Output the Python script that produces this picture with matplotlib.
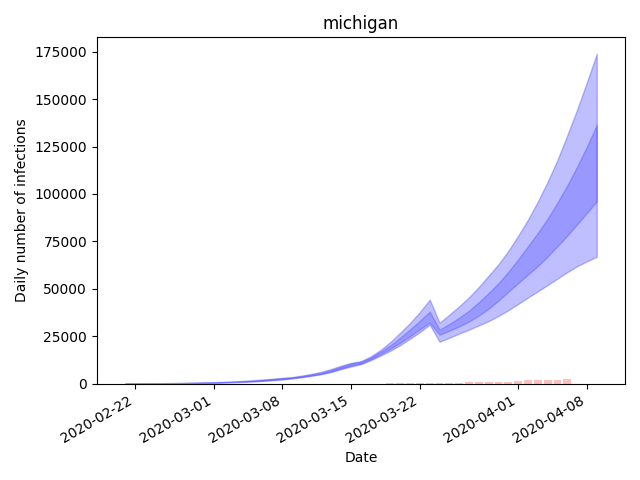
import numpy as np
import pandas as pd
import matplotlib
matplotlib.use('agg')
import matplotlib.pyplot as plt
import matplotlib.dates as mdates

dates = pd.date_range('2020-02-21', '2020-04-09')

# 49 daily values (feb 21 - apr 9)
outer_low = [50, 70, 90, 120, 150, 190, 240, 300, 380, 480, 600, 750, 930, 1150, 1450, 1800, 2200,
             2800, 3400, 4150, 5000, 6200, 7700, 9100, 10300, 12400, 14800, 17400, 20300, 23700, 27200, 31100,
             22100, 24200, 26400, 28500, 30700, 33000, 35700, 38700, 42000, 45400, 48700, 52000, 55400, 58800, 61900, 64500, 66900]
outer_up = [90, 120, 160, 210, 270, 340, 420, 520, 650, 800, 980, 1200, 1470, 1800, 2200, 2650, 3100,
            3500, 4300, 5200, 6300, 7800, 9500, 11000, 11900, 14400, 17800, 22000, 26900, 32000, 37800, 44300,
            32100, 36400, 40800, 45600, 51000, 57000, 63000, 70000, 78000, 86500, 96000, 106500, 118000, 131000, 144500, 159000, 173900]
inner_low = [60, 80, 110, 140, 180, 230, 290, 360, 450, 560, 700, 870, 1070, 1320, 1640, 2020, 2400,
             2950, 3600, 4400, 5300, 6500, 8100, 9500, 10600, 12900, 15600, 18400, 21600, 25000, 28700, 32100,
             25800, 27900, 30200, 32800, 35900, 39500, 43800, 48500, 53000, 57500, 62000, 67000, 72500, 78000, 84000, 90000, 96100]
inner_up = [70, 100, 130, 170, 220, 280, 350, 440, 550, 680, 830, 1030, 1270, 1570, 1930, 2320, 2800,
            3200, 3950, 4800, 5800, 7200, 9000, 10600, 11500, 13800, 16900, 20300, 24300, 28600, 33200, 38000,
            28500, 31500, 34800, 38500, 43000, 47800, 53000, 59000, 65500, 72500, 79500, 87000, 95500, 104500, 114400, 125000, 136500]

bar_dates = pd.date_range('2020-03-19', '2020-04-06')
daily_cases = [400, 400, 400, 400, 400, 400, 400, 400, 900, 900, 900, 900, 900, 1500, 2000, 2000, 2000, 2000, 2700]

tick_dates = pd.to_datetime(['2020-02-22', '2020-03-01', '2020-03-08', '2020-03-15', '2020-03-22', '2020-04-01', '2020-04-08'])

fig, ax = plt.subplots(figsize=(6.4, 4.8))
ax.bar(bar_dates, daily_cases, color='r', alpha=0.25)
ax.fill_between(dates, outer_low, outer_up, color='b', alpha=0.25)
ax.fill_between(dates, inner_low, inner_up, color='b', alpha=0.2)
ax.set_xticks(tick_dates)
ax.xaxis.set_major_formatter(mdates.DateFormatter('%Y-%m-%d'))
ax.set_xlim(pd.Timestamp('2020-02-18 03:00'), pd.Timestamp('2020-04-11 21:00'))
ax.set_yticks(np.arange(0, 175001, 25000))
ax.set_ylim(bottom=0)
ax.set_xlabel('Date')
ax.set_ylabel('Daily number of infections')
ax.set_title('michigan')
fig.autofmt_xdate()
fig.tight_layout()
fig.savefig('out.png', dpi=100)
